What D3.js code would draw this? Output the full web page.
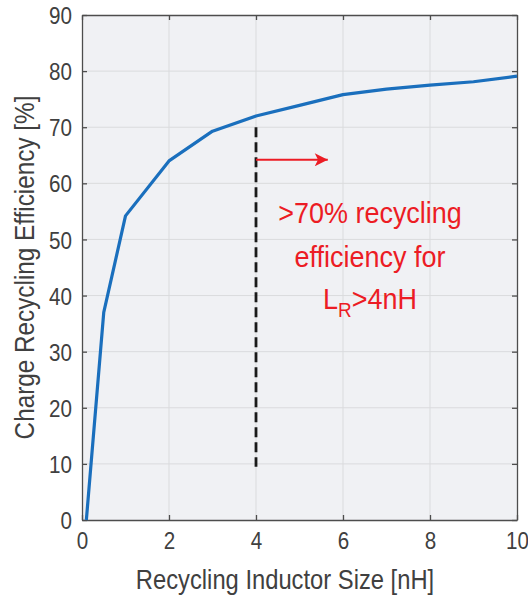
<!DOCTYPE html>
<html>
<head>
<meta charset="utf-8">
<script src="https://cdn.jsdelivr.net/npm/d3@7"></script>
<style>
  html, body { margin: 0; padding: 0; background: #fff; }
  svg { display: block; }
  text { font-family: "Liberation Sans", Arial, Helvetica, sans-serif; }
</style>
</head>
<body>
<svg id="chart" width="528" height="600"></svg>
<script>
// Inductor size sweep (nH) and resulting charge recycling efficiency (%)
const inductorNH = [0.1, 0.5, 1, 2, 3, 4, 5, 6, 7, 8, 9, 10];
const efficiencyPct = [0, 37, 54.2, 64, 69.3, 72, 73.9, 75.8, 76.8, 77.5, 78.1, 79.1];

const xTicks = [0, 2, 4, 6, 8, 10];
const yTicks = [0, 10, 20, 30, 40, 50, 60, 70, 80, 90];

// Threshold marker and annotation
const thresholdX = 4;
const thresholdRange = [9.5, 70];
const arrowFrom = [4, 64.2];
const arrowTo = [5.65, 64.2];
const noteLines = [">70% recycling", "efficiency for"];

const margin = { left: 82, right: 11, top: 15, bottom: 80 };
const W = 528, H = 600;
const svg = d3.select("#chart");

const x = d3.scaleLinear().domain([0, 10]).range([margin.left, W - margin.right]);
const y = d3.scaleLinear().domain([0, 90]).range([H - margin.bottom, margin.top]);

const axisColor = "#4d4d4d";
const textColor = "#404040";
// condensed look for the sans-serif face
const squeeze = 0.86;

// plot background
svg.append("rect")
  .attr("x", x(0)).attr("y", y(90))
  .attr("width", x(10) - x(0)).attr("height", y(0) - y(90))
  .attr("fill", "#f0f1f4");

// grid lines
svg.append("g").selectAll("line").data(xTicks.slice(1, -1)).join("line")
  .attr("x1", d => x(d)).attr("x2", d => x(d))
  .attr("y1", y(0)).attr("y2", y(90))
  .attr("stroke", "#dadbdd").attr("stroke-width", 1);
svg.append("g").selectAll("line").data(yTicks.slice(1, -1)).join("line")
  .attr("x1", x(0)).attr("x2", x(10))
  .attr("y1", d => y(d)).attr("y2", d => y(d))
  .attr("stroke", "#dadbdd").attr("stroke-width", 1);

// axes (ticks pointing inward, on all four sides)
const tickLen = 5;
const axLeft = svg.append("g").attr("transform", `translate(${x(0)},0)`)
  .call(d3.axisLeft(y).tickValues(yTicks).tickSizeInner(-tickLen).tickSizeOuter(0));
const axRight = svg.append("g").attr("transform", `translate(${x(10)},0)`)
  .call(d3.axisRight(y).tickValues(yTicks).tickSizeInner(-tickLen).tickSizeOuter(0).tickFormat(""));
const axBottom = svg.append("g").attr("transform", `translate(0,${y(0)})`)
  .call(d3.axisBottom(x).tickValues(xTicks).tickSizeInner(-tickLen).tickSizeOuter(0));
const axTop = svg.append("g").attr("transform", `translate(0,${y(90)})`)
  .call(d3.axisTop(x).tickValues(xTicks).tickSizeInner(-tickLen).tickSizeOuter(0).tickFormat(""));

[axLeft, axRight, axBottom, axTop].forEach(g => {
  g.attr("font-family", null);
  g.select(".domain").attr("stroke", axisColor).attr("stroke-width", 1.3);
  g.selectAll(".tick line").attr("stroke", axisColor).attr("stroke-width", 1.3);
  g.selectAll(".tick text").attr("fill", textColor).attr("font-size", 24);
});
axLeft.selectAll(".tick text")
  .attr("x", 0).attr("dy", "0.36em")
  .attr("transform", `translate(-10,0) scale(${squeeze},1)`);
axBottom.selectAll(".tick text")
  .attr("y", 0).attr("dy", "0.71em")
  .attr("transform", `translate(0,12) scale(${squeeze},1)`);

// efficiency curve
svg.append("path")
  .datum(inductorNH.map((d, i) => [d, efficiencyPct[i]]))
  .attr("d", d3.line().x(d => x(d[0])).y(d => y(d[1])))
  .attr("fill", "none")
  .attr("stroke", "#1a6fbd")
  .attr("stroke-width", 3.2)
  .attr("stroke-linejoin", "round");

// threshold line
svg.append("line")
  .attr("x1", x(thresholdX)).attr("x2", x(thresholdX))
  .attr("y1", y(thresholdRange[1])).attr("y2", y(thresholdRange[0]))
  .attr("stroke", "#1a1a1a").attr("stroke-width", 2.8)
  .attr("stroke-dasharray", "10,5");

// arrow
const red = "#ec1c24";
svg.append("defs").append("marker")
  .attr("id", "arrowhead")
  .attr("viewBox", "0 0 10 10").attr("refX", 10).attr("refY", 5)
  .attr("markerUnits", "userSpaceOnUse")
  .attr("markerWidth", 15).attr("markerHeight", 13)
  .attr("orient", "auto")
  .append("path").attr("d", "M0,0 L10,5 L0,10 L2.5,5 Z").attr("fill", red);
svg.append("line")
  .attr("x1", x(arrowFrom[0])).attr("y1", y(arrowFrom[1]))
  .attr("x2", x(arrowTo[0])).attr("y2", y(arrowTo[1]))
  .attr("stroke", red).attr("stroke-width", 1.8)
  .attr("marker-end", "url(#arrowhead)");

// annotation text
const note = svg.append("g").attr("fill", red)
  .attr("font-size", 30).attr("text-anchor", "middle");
noteLines.forEach((t, i) => {
  note.append("g").attr("transform", `translate(370,${223 + i * 43.5}) scale(0.9,1)`)
    .append("text").text(t);
});
const lr = note.append("g").attr("transform", "translate(370,309) scale(0.9,1)")
  .append("text");
lr.append("tspan").text("L");
lr.append("tspan").attr("font-size", 21).attr("dy", 8).text("R");
lr.append("tspan").attr("dy", -8).text(">4nH");

// axis titles
svg.append("g").attr("transform", "translate(285,589) scale(0.88,1)")
  .append("text")
  .attr("text-anchor", "middle").attr("font-size", 27).attr("fill", textColor)
  .text("Recycling Inductor Size [nH]");
svg.append("g").attr("transform", `translate(34,${(y(0) + y(90)) / 2}) rotate(-90) scale(0.9,1)`)
  .append("text")
  .attr("text-anchor", "middle").attr("font-size", 27).attr("fill", textColor)
  .text("Charge Recycling Efficiency [%]");
</script>
</body>
</html>
